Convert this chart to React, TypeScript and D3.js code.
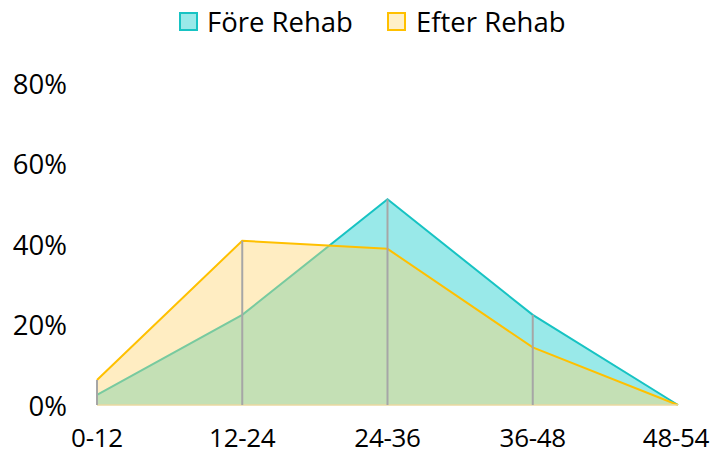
import React from 'react';
import * as d3 from 'd3';

const categories = ['0-12', '12-24', '24-36', '36-48', '48-54'];
const foreRehab = [0.025, 0.224, 0.511, 0.224, 0];
const efterRehab = [0.062, 0.408, 0.388, 0.143, 0];
const yTicks = [0, 0.2, 0.4, 0.6, 0.8];

const W = 712;
const H = 456;
const FONT = '"Open Sans", sans-serif';
const FS = 27.5;

export default function App() {
  const x = d3.scalePoint<string>().domain(categories).range([97, 678]);
  const y = d3.scaleLinear().domain([0, 0.8]).range([405, 83]);

  const area = d3
    .area<number>()
    .x((_, i) => x(categories[i]) as number)
    .y0(y(0))
    .y1((d) => y(d));
  const line = d3
    .line<number>()
    .x((_, i) => x(categories[i]) as number)
    .y((d) => y(d));

  const fmt = d3.format('.0%');

  return (
    <svg
      width={W}
      height={H}
      style={{ position: 'absolute', left: 0, top: 0, background: '#fff' }}
      fontFamily={FONT}
    >
      {/* areas: Före underneath, Efter semi transparent on top */}
      <path d={area(foreRehab) || ''} fill="rgba(0,200,200,0.4)" />
      <path d={line(foreRehab) || ''} fill="none" stroke="#17C3C3" strokeWidth={2} />
      <path d={area(efterRehab) || ''} fill="rgba(255,212,110,0.42)" />
      <path d={line(efterRehab) || ''} fill="none" stroke="#FFC000" strokeWidth={2} />
      <line x1={x(categories[0])} x2={x(categories[4])} y1={y(0)} y2={y(0)} stroke="#EAD9A0" strokeWidth={1.5} />

      {/* drop lines */}
      {categories.map((c, i) => (
        <line
          key={c}
          x1={x(c)}
          x2={x(c)}
          y1={y(Math.max(foreRehab[i], efterRehab[i]))}
          y2={y(0)}
          stroke="#A6A6A6"
          strokeWidth={2}
        />
      ))}

      {/* y axis labels */}
      {yTicks.map((t) => (
        <text key={t} x={67} y={y(t)} textAnchor="end" dominantBaseline="central" fontSize={FS} fill="#000">
          {fmt(t)}
        </text>
      ))}

      {/* x axis labels */}
      {categories.map((c, i) => (
        <text
          key={c}
          x={i === categories.length - 1 ? Math.min(x(c) as number, 676) : x(c)}
          y={437}
          textAnchor="middle"
          dominantBaseline="central"
          fontSize={26}
          letterSpacing={-0.3}
          fill="#000"
        >
          {c}
        </text>
      ))}

      {/* legend */}
      <rect x={180} y={13} width={17} height={17} fill="#99E9E9" stroke="#17C3C3" strokeWidth={2} />
      <text x={207} y={21.5} dominantBaseline="central" fontSize={FS} fill="#000">Före Rehab</text>
      <rect x={388} y={13} width={17} height={17} fill="#FFF0C8" stroke="#FFC000" strokeWidth={2} />
      <text x={416} y={21.5} dominantBaseline="central" fontSize={FS} fill="#000">Efter Rehab</text>
    </svg>
  );
}
